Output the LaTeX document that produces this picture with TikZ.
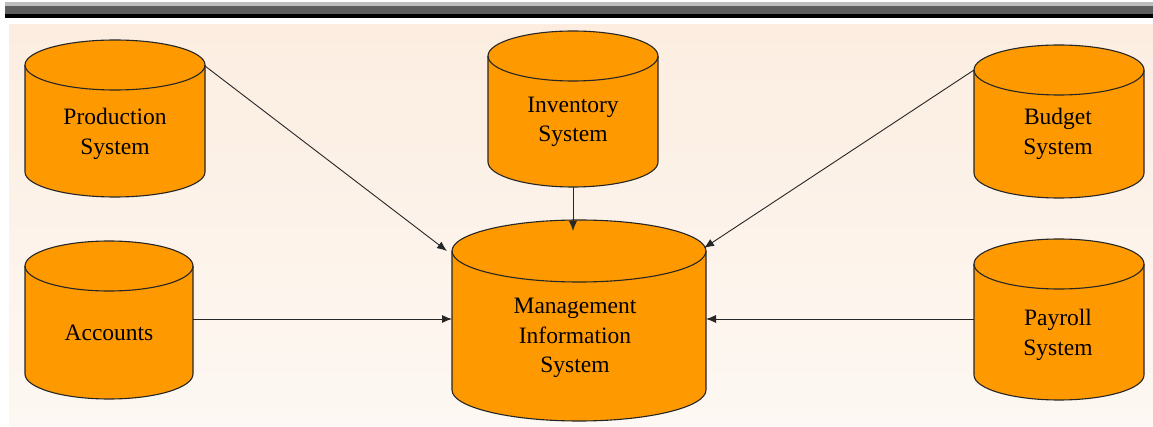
\documentclass[tikz,border=0pt]{standalone}
\usepackage{fontspec}
\setmainfont{Liberation Serif}
\usetikzlibrary{arrows.meta}
\definecolor{cylfill}{HTML}{FF9900}
\definecolor{peachtop}{HTML}{FCEDE0}
\definecolor{peachbot}{HTML}{FDF8F3}
\definecolor{bargray}{HTML}{5E5E5E}
\definecolor{barlight}{HTML}{BDBDBD}
\newcommand{\drawcyl}[5]{% cx, top cy, bottom cy, rx, ry (y axis points down)
  \fill[cylfill] (#1-#4,#2) -- (#1-#4,#3) arc[start angle=180,end angle=0,x radius=#4,y radius=#5] -- (#1+#4,#2) arc[start angle=0,end angle=-180,x radius=#4,y radius=#5] -- cycle;
  \draw[cylline] (#1-#4,#2) -- (#1-#4,#3) arc[start angle=180,end angle=0,x radius=#4,y radius=#5] -- (#1+#4,#2);
  \draw[cylline] (#1,#2) ellipse[x radius=#4,y radius=#5];
}
\tikzset{
  cylline/.style={draw=black!85, line width=1.1pt},
  lbl/.style={align=center, font=\fontsize{23.5}{29.5}\selectfont, inner sep=0pt},
  arr/.style={-{Latex[length=10pt,width=8pt]}, line width=0.9pt, black!85},
}
\begin{document}
\begin{tikzpicture}[x=1pt,y=-1pt]
\useasboundingbox (0,0) rectangle (1153,427);
\fill[white] (0,0) rectangle (1153,427);
\fill[barlight] (5,2) rectangle (1153,6);
\fill[bargray] (5,6) rectangle (1153,14);
\fill[black] (5,14) rectangle (1153,18);
\shade[top color=peachtop, bottom color=peachbot] (9,25) rectangle (1153,427);

% cylinders
\drawcyl{115}{65}{172}{90}{25}
\drawcyl{573}{56}{162}{85}{25}
\drawcyl{1059}{70}{173}{85}{25}
\drawcyl{109}{266}{374}{84}{25}
\drawcyl{579}{251}{390}{127}{31}
\drawcyl{1059}{264}{375}{85}{25}

% labels
\node[lbl] (prod) at (115,134) {Production\\System};
\node[lbl] (inv) at (573,122) {Inventory\\System};
\node[lbl] (budget) at (1058,134) {Budget\\System};
\node[lbl] (acc) at (109,333) {Accounts};
\node[lbl] (mis) at (575,338) {Management\\Information\\System};
\node[lbl] (pay) at (1058,335) {Payroll\\System};

% connector ends
\coordinate (prodR) at (205,66);
\coordinate (invB) at (573,187);
\coordinate (budL) at (974,70);
\coordinate (accR) at (193,319);
\coordinate (payL) at (974,319);
\coordinate (misNW) at (447,251);
\coordinate (misN) at (573,231);
\coordinate (misNE) at (704,248);
\coordinate (misW) at (452,319);
\coordinate (misE) at (706,319);

\draw[arr] (prodR) -- (misNW);
\draw[arr] (invB) -- (misN);
\draw[arr] (budL) -- (misNE);
\draw[arr] (accR) -- (misW);
\draw[arr] (payL) -- (misE);
\end{tikzpicture}
\end{document}
